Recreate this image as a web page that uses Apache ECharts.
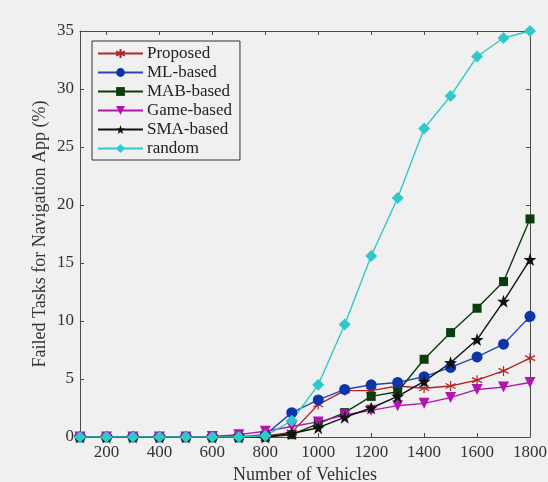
<!DOCTYPE html>
<html>
<head>
<meta charset="utf-8">
<script src="https://cdn.jsdelivr.net/npm/echarts@6/dist/echarts.min.js"></script>
<style>
  html, body { margin: 0; padding: 0; background: #f0f0f0; }
  #chart { width: 548px; height: 482px; }
</style>
</head>
<body>
<div id="chart"></div>
<script>
// x positions (number of vehicles)
const vehicles = [100, 200, 300, 400, 500, 600, 700, 800, 900, 1000, 1100, 1200, 1300, 1400, 1500, 1600, 1700, 1800]
const xTickLabels = [200, 400, 600, 800, 1000, 1200, 1400, 1600, 1800]

const proposed = [0, 0, 0, 0, 0, 0, 0, 0.1, 0.4, 2.8, 4.0, 4.0, 4.4, 4.2, 4.4, 4.9, 5.7, 6.8]
const mlBased = [0, 0, 0, 0, 0, 0, 0, 0.2, 2.1, 3.2, 4.1, 4.5, 4.7, 5.2, 6.0, 6.9, 8.0, 10.4]
const mabBased = [0, 0, 0, 0, 0, 0, 0, 0, 0.2, 1.15, 2.1, 3.5, 3.9, 6.7, 9.0, 11.1, 13.4, 18.8]
const gameBased = [0, 0, 0, 0, 0, 0.05, 0.2, 0.5, 0.9, 1.3, 1.9, 2.3, 2.7, 2.9, 3.4, 4.1, 4.3, 4.7]
const smaBased = [0, 0, 0, 0, 0, 0, 0, 0, 0.3, 0.8, 1.7, 2.5, 3.5, 4.8, 6.4, 8.4, 11.7, 15.3]
const randomAlloc = [0, 0, 0, 0, 0, 0, 0, 0.1, 1.4, 4.5, 9.7, 15.6, 20.6, 26.6, 29.4, 32.8, 34.4, 35.0]

const FONT = 'Liberation Serif'
const AXIS_COLOR = '#4a4a4a'

// marker shapes
const asterisk = 'path://M0,-10L0,10M-8.66,-5L8.66,5M-8.66,5L8.66,-5'
const star = 'path://M0,-10L2.35,-3.24L9.51,-3.09L3.8,1.24L5.88,8.09L0,4L-5.88,8.09L-3.8,1.24L-9.51,-3.09L-2.35,-3.24Z'

function pairs(ys) {
  return vehicles.map((x, i) => [x, ys[i]])
}

function mkSeries(name, data, color, symbol, size, extra) {
  return Object.assign({
    name: name,
    type: 'line',
    data: pairs(data),
    symbol: symbol,
    symbolSize: size,
    showAllSymbol: true,
    lineStyle: { color: color, width: 1.4 },
    itemStyle: { color: color, borderColor: color, borderWidth: 0 },
    emphasis: { disabled: true },
    z: 3
  }, extra || {})
}

const series = [
  mkSeries('Proposed', proposed, '#b0262a', asterisk, 10, {
    itemStyle: { color: 'rgba(0,0,0,0)', borderColor: '#b0262a', borderWidth: 1.2 }
  }),
  mkSeries('ML-based', mlBased, '#0b35a8', 'circle', 11, {
    lineStyle: { color: '#2447b0', width: 1.4 }
  }),
  mkSeries('MAB-based', mabBased, '#0b3d0b', 'rect', 9),
  mkSeries('Game-based', gameBased, '#b015b0', 'triangle', 11, { symbolRotate: 180 }),
  mkSeries('SMA-based', smaBased, '#111111', star, 13),
  mkSeries('random', randomAlloc, '#2fc9c9', 'diamond', 12)
]

const chart = echarts.init(document.getElementById('chart'), null, { renderer: 'canvas' })

const options = {
  backgroundColor: '#f0f0f0',
  animation: false,
  textStyle: { fontFamily: FONT },
  grid: { left: 80, right: 18, top: 31, bottom: 45, show: false, containLabel: false, outerBoundsMode: 'none' },
  legend: {
    orient: 'vertical',
    left: 92,
    top: 41,
    width: 148,
    itemWidth: 45,
    itemHeight: 11,
    itemGap: 2,
    padding: [4, 8, 3, 5],
    backgroundColor: '#f0f0f0',
    borderColor: '#333',
    borderWidth: 1,
    borderRadius: 0,
    textStyle: { fontFamily: FONT, fontSize: 17, color: '#222', padding: [0, 0, 0, -1] },
    data: ['Proposed', 'ML-based', 'MAB-based', 'Game-based', 'SMA-based', 'random']
  },
  xAxis: [{
    type: 'value',
    min: 100,
    max: 1800,
    name: 'Number of Vehicles',
    nameLocation: 'middle',
    nameGap: 29,
    nameMoveOverlap: false,
    nameTextStyle: { fontFamily: FONT, fontSize: 18, color: '#333' },
    axisLine: { show: true, lineStyle: { color: AXIS_COLOR, width: 1 } },
    axisTick: { show: true, inside: true, length: 4, customValues: xTickLabels, lineStyle: { color: AXIS_COLOR } },
    axisLabel: {
      show: true, customValues: xTickLabels, fontFamily: FONT, fontSize: 17, color: '#333', margin: 7,
      formatter: v => String(v)
    },
    splitLine: { show: false }
  }, {
    type: 'value',
    position: 'top',
    min: 100,
    max: 1800,
    axisLine: { show: true, onZero: false, lineStyle: { color: AXIS_COLOR, width: 1 } },
    axisTick: { show: true, inside: true, length: 4, customValues: xTickLabels, lineStyle: { color: AXIS_COLOR } },
    axisLabel: { show: false },
    splitLine: { show: false }
  }],
  yAxis: [{
    type: 'value',
    min: 0,
    max: 35,
    interval: 5,
    name: 'Failed Tasks for Navigation App (%)',
    nameLocation: 'middle',
    nameGap: 31,
    nameMoveOverlap: false,
    nameTextStyle: { fontFamily: FONT, fontSize: 18, color: '#333' },
    axisLine: { show: true, lineStyle: { color: AXIS_COLOR, width: 1 } },
    axisTick: { show: true, inside: true, length: 4, lineStyle: { color: AXIS_COLOR } },
    axisLabel: { fontFamily: FONT, fontSize: 17, color: '#333', margin: 6 },
    splitLine: { show: false }
  }, {
    type: 'value',
    position: 'right',
    min: 0,
    max: 35,
    interval: 5,
    axisLine: { show: true, onZero: false, lineStyle: { color: AXIS_COLOR, width: 1 } },
    axisTick: { show: true, inside: true, length: 4, lineStyle: { color: AXIS_COLOR } },
    axisLabel: { show: false },
    splitLine: { show: false }
  }],
  series: series
}

chart.setOption(options)
</script>
</body>
</html>
